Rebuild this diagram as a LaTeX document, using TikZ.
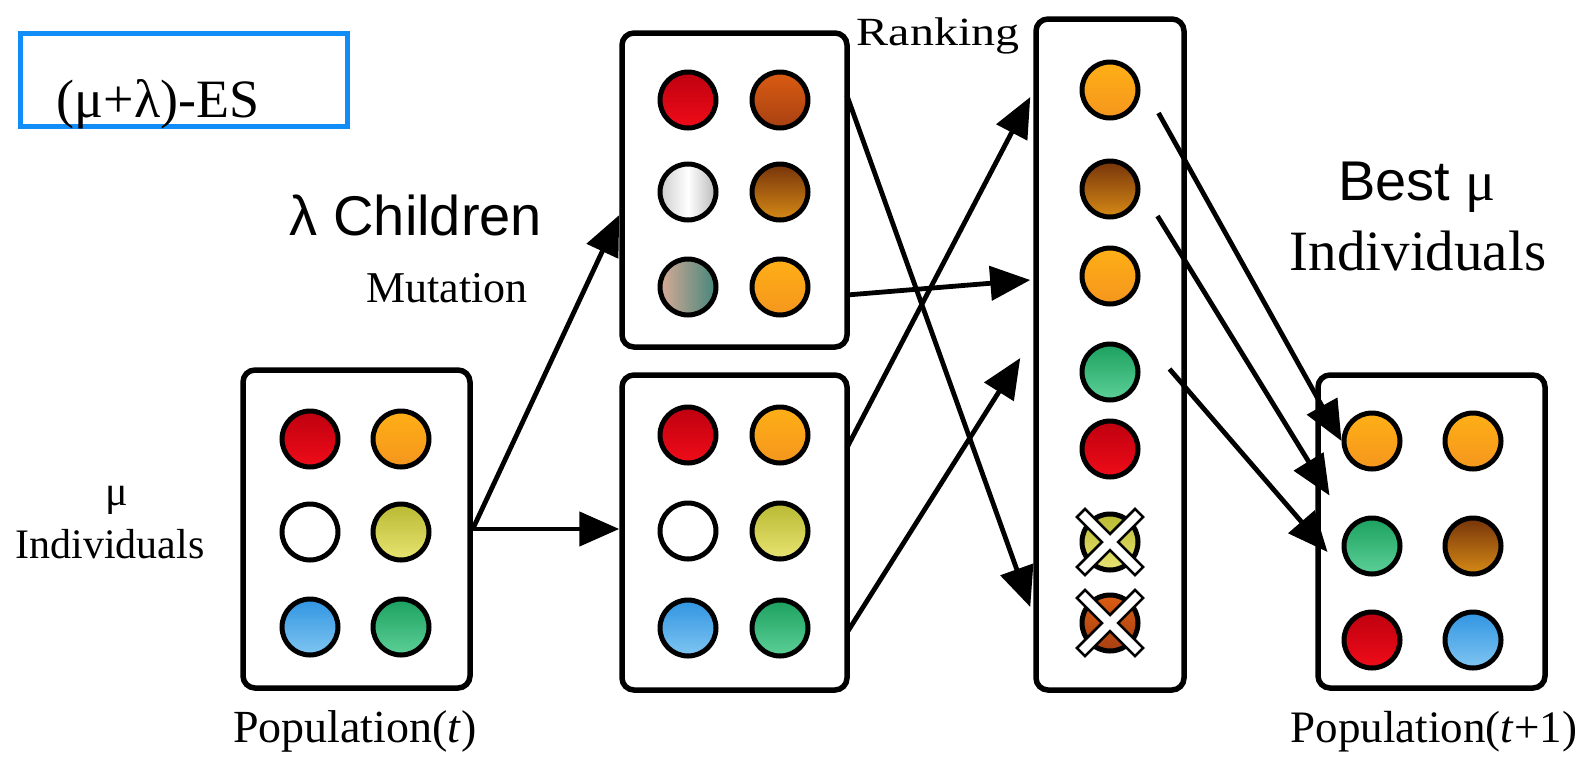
\documentclass[tikz,border=0pt]{standalone}
\usepackage{fontspec}
\setmainfont{Liberation Serif}
\newfontfamily\sansfont{Liberation Sans}
\usetikzlibrary{arrows.meta,fit,calc}

% individual colours (top / bottom of each gradient)
\definecolor{redT}{RGB}{190,0,15}
\definecolor{redB}{RGB}{240,12,25}
\definecolor{orT}{RGB}{255,175,22}
\definecolor{orB}{RGB}{244,150,30}
\definecolor{olT}{RGB}{185,185,50}
\definecolor{olB}{RGB}{232,228,115}
\definecolor{blT}{RGB}{48,148,225}
\definecolor{blB}{RGB}{128,198,242}
\definecolor{grT}{RGB}{28,160,95}
\definecolor{grB}{RGB}{92,208,152}
\definecolor{boT}{RGB}{218,92,18}
\definecolor{boB}{RGB}{168,64,18}
\definecolor{brT}{RGB}{118,52,10}
\definecolor{brB}{RGB}{214,138,22}
\definecolor{peach}{RGB}{216,170,150}
\definecolor{teal}{RGB}{68,134,124}
\definecolor{lgray}{RGB}{205,205,205}
\definecolor{esblue}{RGB}{17,141,247}

\tikzset{
  box/.style={draw, line width=2.75pt, rounded corners=6pt, inner sep=0pt},
  ind/.style={circle, draw, line width=2.5pt, inner sep=0pt, minimum size=28pt},
  cRed/.style={ind, top color=redT, bottom color=redB},
  cOrange/.style={ind, top color=orT, bottom color=orB},
  cWhite/.style={ind, fill=white},
  cOlive/.style={ind, top color=olT, bottom color=olB},
  cBlue/.style={ind, top color=blT, bottom color=blB},
  cGreen/.style={ind, top color=grT, bottom color=grB},
  cBurnt/.style={ind, top color=boT, bottom color=boB},
  cBrown/.style={ind, top color=brT, bottom color=brB},
  cSilver/.style={ind, left color=lgray, right color=lgray!90!black, middle color=white},
  cPeachTeal/.style={ind, left color=peach, right color=teal},
  conn/.style={line width=2.4pt, -{Triangle[length=20pt,width=17pt]}},
  serifL/.style={font=\fontsize{#1}{#1}\selectfont, inner sep=0pt, anchor=base},
  sansL/.style={font=\sansfont\fontsize{#1}{#1}\selectfont, inner sep=0pt, anchor=base},
}

\begin{document}
\begin{tikzpicture}[x=0.5pt,y=-0.5pt]
\useasboundingbox (0,0) rectangle (1580,756);

% title box
\node[draw=esblue, line width=2.5pt, inner sep=0pt, fit={(20,33)(347,126)}] (title) {};
\node[serifL=27pt] (titletext) at (158,117) {(μ+λ)-ES};

% population boxes
\node[box, fit={(243,370)(470,688)}] (pt) {};
\node[box, fit={(622,33)(847,347)}] (tm) {};
\node[box, fit={(622,375)(847,690)}] (bm) {};
\node[box, fit={(1036,19)(1184,690)}] (rk) {};
\node[box, fit={(1318,375)(1545,688)}] (pn) {};

% Population(t)
\node[cRed]    (pt1) at (310,439) {};
\node[cOrange] (pt2) at (401,439) {};
\node[cWhite]  (pt3) at (310,532) {};
\node[cOlive]  (pt4) at (401,532) {};
\node[cBlue]   (pt5) at (310,627) {};
\node[cGreen]  (pt6) at (401,627) {};

% mutated children
\node[cRed]       (tm1) at (688,100) {};
\node[cBurnt]     (tm2) at (780,100) {};
\node[cSilver]    (tm3) at (688,192) {};
\node[cBrown]     (tm4) at (780,192) {};
\node[cPeachTeal] (tm5) at (688,287) {};
\node[cOrange]    (tm6) at (780,287) {};

% copied parents
\node[cRed]    (bm1) at (688,435) {};
\node[cOrange] (bm2) at (780,435) {};
\node[cWhite]  (bm3) at (688,531) {};
\node[cOlive]  (bm4) at (780,531) {};
\node[cBlue]   (bm5) at (688,628) {};
\node[cGreen]  (bm6) at (780,628) {};

% ranking
\node[cOrange] (rk1) at (1110,90) {};
\node[cBrown]  (rk2) at (1110,189) {};
\node[cOrange] (rk3) at (1110,276) {};
\node[cGreen]  (rk4) at (1110,372) {};
\node[cRed]    (rk5) at (1110,449) {};
\node[cOlive]  (rk6) at (1110,542) {};
\node[cBurnt]  (rk7) at (1110,623) {};

% discarded individuals
\foreach \n in {rk6,rk7} {
  \draw[line width=7pt, line cap=rect]
    ([shift={(-25,-25)}]\n.center) -- ([shift={(25,25)}]\n.center)
    ([shift={(-25,25)}]\n.center) -- ([shift={(25,-25)}]\n.center);
}
\foreach \n in {rk6,rk7} {
  \draw[white, line width=4.25pt, line cap=rect]
    ([shift={(-25,-25)}]\n.center) -- ([shift={(25,25)}]\n.center)
    ([shift={(-25,25)}]\n.center) -- ([shift={(25,-25)}]\n.center);
}

% Population(t+1)
\node[cOrange] (pn1) at (1372,441) {};
\node[cOrange] (pn2) at (1473,441) {};
\node[cGreen]  (pn3) at (1372,546) {};
\node[cBrown]  (pn4) at (1473,546) {};
\node[cRed]    (pn5) at (1372,640) {};
\node[cBlue]   (pn6) at (1473,640) {};

% connectors
\draw[conn] (pt.east) -- ([shift={(0,25)}]tm.west);
\draw[conn] (pt.east) -- (pt.east -| bm.west);
\draw[conn] ($(tm2 -| tm.east)+(-3,-5)$) -- ($(rk7 -| rk.west)+(-3,-16)$);
\draw[conn] ($(tm6 -| tm.east)+(-3,8)$) -- ($(rk3 -| rk.west)+(-3,4)$);
\draw[conn] ($(bm2 -| bm.east)+(-3,13)$) -- ($(rk1 -| rk.west)+(-3,7)$);
\draw[conn] ($(bm6 -| bm.east)+(-3,5)$) -- ($(rk4 -| rk.west)+(-13,-14)$);
\draw[conn] ($(rk1.east)+(18,23)$) -- (pn1.west);
\draw[conn] ($(rk2.east)+(17,27)$) -- ($(pn1.west)!.5!(pn3.west)+(-12,2)$);
\draw[conn] ($(rk4.east)+(29,-3)$) -- ($(pn3.west)+(-14,6)$);

% labels
\node[sansL=28pt] (lchild) at (416,235) {λ Children};
\node[serifL=22pt] (lmut) at (447,302) {Mutation};
\node[serifL=20pt] (lrank) at (938,45) {\scalebox{1.2}[1]{Ranking}};
\node[sansL=28pt] (lbest) at (1417,200) {Best {\rmfamily μ}};
\node[serifL=28.5pt] (lbestind) at (1418,270) {Individuals};
\node[serifL=21pt] (lmu) at (117,505) {μ};
\node[serifL=21pt] (lmuind) at (110,558) {Individuals};
\node[serifL=23pt] (lpopt) at (355,742) {Population(\textit{t})};
\node[serifL=22.5pt] (lpopn) at (1434,742) {Population(\textit{t}+1)};
\end{tikzpicture}
\end{document}
